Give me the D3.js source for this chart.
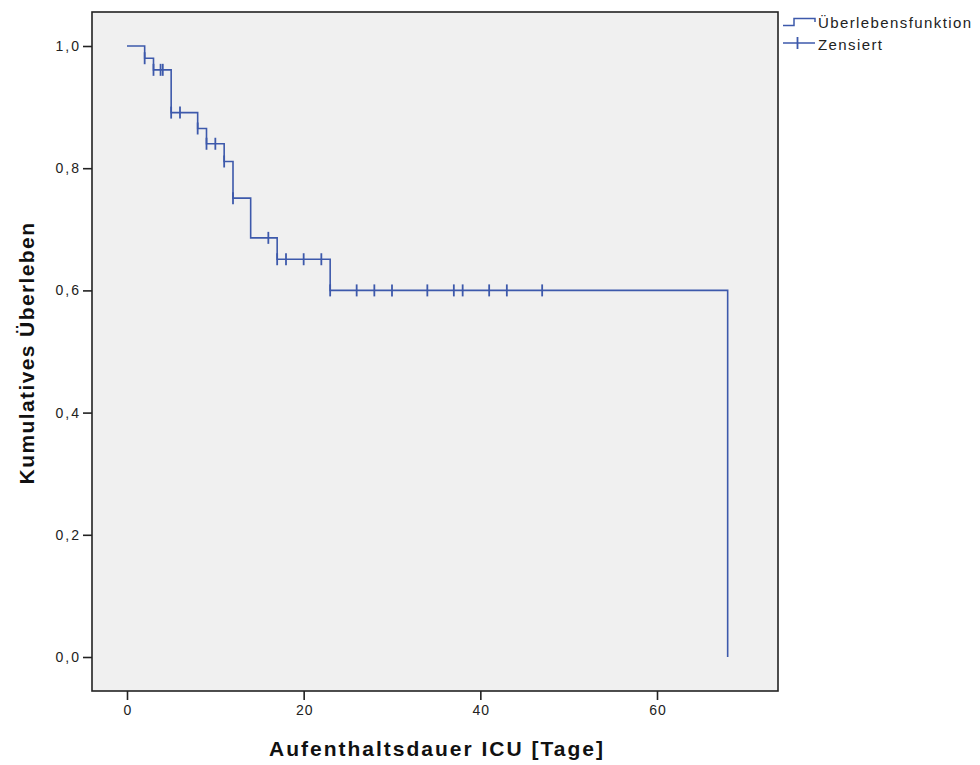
<!DOCTYPE html>
<html>
<head>
<meta charset="utf-8">
<script src="https://cdn.jsdelivr.net/npm/d3@7"></script>
<style>
  html, body { margin: 0; padding: 0; background: #ffffff; }
  svg { display: block; }
  text { font-family: "Liberation Sans", Arial, sans-serif; }
</style>
</head>
<body>
<svg id="chart" width="980" height="765"></svg>
<script>
// ---- data ----
const stepTimes = [0, 2, 3, 5, 8, 9, 11, 12, 14, 17, 23, 68];
const survival  = [1.0, 0.98, 0.961, 0.891, 0.865, 0.840, 0.811, 0.751, 0.686, 0.651, 0.600, 0.0];
const censoredTimes = [2, 3, 3.8, 4.05, 5, 6, 8, 9, 10, 11, 12, 16, 17, 18, 20, 22, 23, 26, 28, 30, 34, 37, 38, 41, 43, 47];
const xTicks = [0, 20, 40, 60];
const yTicks = [0, 0.2, 0.4, 0.6, 0.8, 1.0];
const xTitle = "Aufenthaltsdauer ICU [Tage]";
const yTitle = "Kumulatives Überleben";
const legendLabels = ["Überlebensfunktion", "Zensiert"];

// ---- layout ----
const frame = { left: 92, right: 778, top: 12, bottom: 691 };
const lineColor = "#3d59ab";
const svg = d3.select("#chart");

const x = d3.scaleLinear().domain([0, 60]).range([127, 657]);
const y = d3.scaleLinear().domain([0, 1]).range([657, 46]);

// plot background
svg.append("rect")
  .attr("x", frame.left).attr("y", frame.top)
  .attr("width", frame.right - frame.left).attr("height", frame.bottom - frame.top)
  .attr("fill", "#f0f0f0");

// step curve
const stepData = stepTimes.map((t, i) => [t, survival[i]]);
const line = d3.line().x(d => x(d[0])).y(d => y(d[1])).curve(d3.curveStepAfter);
svg.append("path")
  .datum(stepData)
  .attr("d", line)
  .attr("fill", "none")
  .attr("stroke", lineColor)
  .attr("stroke-width", 1.6);

// censor marks
function survAt(t) {
  const i = d3.bisectRight(stepTimes, t) - 1;
  return survival[Math.max(0, i)];
}
svg.append("g").selectAll("line")
  .data(censoredTimes)
  .join("line")
  .attr("x1", d => x(d)).attr("x2", d => x(d))
  .attr("y1", d => y(survAt(d)) - 6)
  .attr("y2", d => y(survAt(d)) + 6)
  .attr("stroke", lineColor)
  .attr("stroke-width", 1.8);

// frame
svg.append("rect")
  .attr("x", frame.left).attr("y", frame.top)
  .attr("width", frame.right - frame.left).attr("height", frame.bottom - frame.top)
  .attr("fill", "none")
  .attr("stroke", "#222222")
  .attr("stroke-width", 1.6);

// x axis
const xAxis = d3.axisBottom(x).tickValues(xTicks).tickSize(9).tickPadding(5)
  .tickFormat(d3.format("d"));
const gx = svg.append("g").attr("transform", `translate(0,${frame.bottom})`).call(xAxis);
gx.select(".domain").remove();
gx.selectAll(".tick line").attr("stroke", "#222222").attr("stroke-width", 1.6);
gx.selectAll(".tick text").attr("font-size", 14).attr("fill", "#222222")
  .attr("dx", "0.5px")
  .style("letter-spacing", "1px")
  .style("font-family", "'Liberation Sans', Arial, sans-serif");

// y axis
const yAxis = d3.axisLeft(y).tickValues(yTicks).tickSize(9).tickPadding(2)
  .tickFormat(d => d3.format(".1f")(d).replace(".", ","));
const gy = svg.append("g").attr("transform", `translate(${frame.left},0)`).call(yAxis);
gy.select(".domain").remove();
gy.selectAll(".tick line").attr("stroke", "#222222").attr("stroke-width", 1.6);
gy.selectAll(".tick text").attr("font-size", 14).attr("fill", "#222222")
  .style("letter-spacing", "2px")
  .style("font-family", "'Liberation Sans', Arial, sans-serif");

// titles
svg.append("text")
  .attr("x", 437).attr("y", 756)
  .attr("text-anchor", "middle")
  .attr("font-size", 21).attr("font-weight", "bold").attr("fill", "#111111")
  .style("letter-spacing", "2px")
  .text(xTitle);
svg.append("text")
  .attr("transform", "translate(34,353) rotate(-90)")
  .attr("text-anchor", "middle")
  .attr("font-size", 21).attr("font-weight", "bold").attr("fill", "#111111")
  .style("letter-spacing", "1.4px")
  .text(yTitle);

// legend
const lg = svg.append("g");
lg.append("path")
  .attr("d", "M783,25.5 H794 V18.5 H815 V22")
  .attr("fill", "none").attr("stroke", lineColor).attr("stroke-width", 1.5);
lg.append("line").attr("x1", 783).attr("x2", 815).attr("y1", 43).attr("y2", 43)
  .attr("stroke", lineColor).attr("stroke-width", 1.5);
lg.append("line").attr("x1", 797.5).attr("x2", 797.5).attr("y1", 37).attr("y2", 49)
  .attr("stroke", lineColor).attr("stroke-width", 1.8);
lg.selectAll("text.leg")
  .data(legendLabels)
  .join("text")
  .attr("class", "leg")
  .attr("x", 818)
  .attr("y", (d, i) => 28 + i * 22)
  .attr("font-size", 15).attr("fill", "#222222")
  .style("letter-spacing", "1.4px")
  .text(d => d);
</script>
</body>
</html>
